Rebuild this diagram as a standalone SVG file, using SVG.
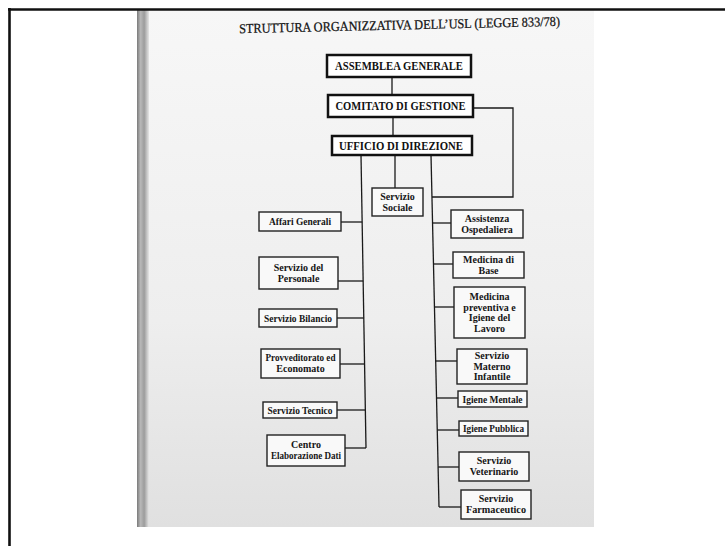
<svg xmlns="http://www.w3.org/2000/svg" width="725" height="546" viewBox="0 0 725 546">
  <style>
    .big { fill: #ffffff; stroke: #111111; stroke-width: 2.5; }
    .box { fill: #f9f9f9; stroke: #222222; stroke-width: 1.4; }
    .bt { font-family: "Liberation Serif", "DejaVu Serif", serif; font-weight: bold; font-size: 12px; fill: #111111; text-anchor: middle; }
    .st { font-family: "Liberation Serif", "DejaVu Serif", serif; font-weight: bold; font-size: 10px; fill: #151515; text-anchor: middle; }
    .title { font-family: "Liberation Serif", "DejaVu Serif", serif; font-size: 13.5px; fill: #111111; stroke: #111111; stroke-width: 0.25; text-anchor: middle; }
    .conn { fill: none; stroke: #1a1a1a; stroke-width: 1.3; }
  </style>
  <defs>
    <linearGradient id="page" x1="0" y1="0" x2="0" y2="1">
      <stop offset="0" stop-color="#f7f7f7"/>
      <stop offset="0.6" stop-color="#eeeeee"/>
      <stop offset="1" stop-color="#e0e0e0"/>
    </linearGradient>
    <linearGradient id="bind" x1="0" y1="0" x2="1" y2="0">
      <stop offset="0" stop-color="#7a7a7a"/>
      <stop offset="0.3" stop-color="#b8b8b8"/>
      <stop offset="0.6" stop-color="#9c9c9c"/>
      <stop offset="1" stop-color="#e6e6e6"/>
    </linearGradient>
  </defs>

  <!-- background and frame -->
  <rect x="0" y="0" width="725" height="546" fill="#ffffff"/>
  <rect x="137" y="10" width="457" height="517" fill="url(#page)"/>
  <rect x="137" y="10" width="12" height="517" fill="url(#bind)"/>
  <line x1="8" y1="9.5" x2="725" y2="9.5" stroke="#111" stroke-width="2.6"/>
  <line x1="9.5" y1="8" x2="9.5" y2="546" stroke="#111" stroke-width="2.6"/>

  <text class="title" x="399.5" y="29.5" textLength="321" lengthAdjust="spacingAndGlyphs" transform="rotate(-1.3 399.5 25)">STRUTTURA ORGANIZZATIVA DELL’USL (LEGGE 833/78)</text>

  <!-- connectors -->
  <g id="connectors" class="conn">
    <line x1="392" y1="77" x2="392" y2="95"/>
    <line x1="393" y1="117" x2="393" y2="136"/>
    <polyline points="473,108 513,108 513,197 432,197"/>
    <line x1="395" y1="155" x2="395" y2="188"/>
    <!-- left trunk -->
    <line x1="361" y1="155" x2="366" y2="448"/>
    <line x1="341" y1="222" x2="362.1" y2="222"/>
    <line x1="338" y1="281" x2="363.1" y2="281"/>
    <line x1="337" y1="318" x2="363.8" y2="318"/>
    <line x1="340" y1="364" x2="364.6" y2="364"/>
    <line x1="337" y1="410" x2="365.4" y2="410"/>
    <line x1="345" y1="448" x2="366" y2="448"/>
    <!-- right trunk -->
    <line x1="431" y1="155" x2="439" y2="507"/>
    <line x1="432.5" y1="223" x2="451" y2="223"/>
    <line x1="433.5" y1="264" x2="453" y2="264"/>
    <line x1="434.5" y1="307" x2="454" y2="307"/>
    <line x1="435.7" y1="361" x2="457" y2="361"/>
    <line x1="436.5" y1="398" x2="458" y2="398"/>
    <line x1="437.2" y1="430" x2="459" y2="430"/>
    <line x1="438.1" y1="467" x2="459" y2="467"/>
    <line x1="439" y1="507" x2="461" y2="507"/>
  </g>

  <!-- top nodes -->
  <g id="assemblea">
    <rect class="big" x="327" y="55" width="144" height="22"/>
    <text class="bt" x="399" y="70.2" textLength="128" lengthAdjust="spacingAndGlyphs">ASSEMBLEA GENERALE</text>
  </g>
  <g id="comitato">
    <rect class="big" x="328" y="95" width="145" height="22"/>
    <text class="bt" x="400.5" y="110.2" textLength="130" lengthAdjust="spacingAndGlyphs">COMITATO DI GESTIONE</text>
  </g>
  <g id="ufficio">
    <rect class="big" x="332" y="136" width="140" height="19"/>
    <text class="bt" x="401" y="149.7" textLength="124" lengthAdjust="spacingAndGlyphs">UFFICIO DI DIREZIONE</text>
  </g>

  <!-- center -->
  <g id="servizio-sociale">
    <rect class="box" x="372" y="188" width="51" height="28"/>
    <text class="st" x="397.5" y="199.8">Servizio</text>
    <text class="st" x="397.5" y="210.8">Sociale</text>
  </g>

  <!-- left column -->
  <g id="affari-generali">
    <rect class="box" x="259" y="212" width="82" height="19"/>
    <text class="st" x="300" y="225" textLength="62" lengthAdjust="spacingAndGlyphs">Affari Generali</text>
  </g>
  <g id="servizio-personale">
    <rect class="box" x="259" y="257" width="79" height="32"/>
    <text class="st" x="298.5" y="270.8">Servizio del</text>
    <text class="st" x="298.5" y="281.8">Personale</text>
  </g>
  <g id="servizio-bilancio">
    <rect class="box" x="259" y="309" width="78" height="18"/>
    <text class="st" x="298" y="321.5" textLength="68" lengthAdjust="spacingAndGlyphs">Servizio Bilancio</text>
  </g>
  <g id="provveditorato">
    <rect class="box" x="261" y="349" width="79" height="29"/>
    <text class="st" x="300.5" y="361.3" textLength="70" lengthAdjust="spacingAndGlyphs">Provveditorato ed</text>
    <text class="st" x="300.5" y="372.3">Economato</text>
  </g>
  <g id="servizio-tecnico">
    <rect class="box" x="263" y="402" width="74" height="16"/>
    <text class="st" x="300" y="413.5" textLength="65" lengthAdjust="spacingAndGlyphs">Servizio Tecnico</text>
  </g>
  <g id="centro-elaborazione">
    <rect class="box" x="267" y="435" width="78" height="31"/>
    <text class="st" x="306" y="448.3">Centro</text>
    <text class="st" x="306" y="459.3" textLength="70" lengthAdjust="spacingAndGlyphs">Elaborazione Dati</text>
  </g>

  <!-- right column -->
  <g id="assistenza-ospedaliera">
    <rect class="box" x="451" y="210" width="72" height="28"/>
    <text class="st" x="487" y="221.8">Assistenza</text>
    <text class="st" x="487" y="232.8">Ospedaliera</text>
  </g>
  <g id="medicina-base">
    <rect class="box" x="453" y="252" width="71" height="26"/>
    <text class="st" x="488.5" y="262.8">Medicina di</text>
    <text class="st" x="488.5" y="273.8">Base</text>
  </g>
  <g id="medicina-preventiva">
    <rect class="box" x="454" y="287" width="71" height="51"/>
    <text class="st" x="489.5" y="300">Medicina</text>
    <text class="st" x="489.5" y="310.5">preventiva e</text>
    <text class="st" x="489.5" y="321">Igiene del</text>
    <text class="st" x="489.5" y="331.5">Lavoro</text>
  </g>
  <g id="materno-infantile">
    <rect class="box" x="457" y="349" width="70" height="35"/>
    <text class="st" x="492" y="359.3">Servizio</text>
    <text class="st" x="492" y="369.8">Materno</text>
    <text class="st" x="492" y="380.3">Infantile</text>
  </g>
  <g id="igiene-mentale">
    <rect class="box" x="458" y="391" width="69" height="16"/>
    <text class="st" x="492.5" y="402.5" textLength="60" lengthAdjust="spacingAndGlyphs">Igiene Mentale</text>
  </g>
  <g id="igiene-pubblica">
    <rect class="box" x="459" y="421" width="69" height="15"/>
    <text class="st" x="493.5" y="432" textLength="61" lengthAdjust="spacingAndGlyphs">Igiene Pubblica</text>
  </g>
  <g id="servizio-veterinario">
    <rect class="box" x="459" y="452" width="70" height="29"/>
    <text class="st" x="494" y="464.3">Servizio</text>
    <text class="st" x="494" y="475.3">Veterinario</text>
  </g>
  <g id="servizio-farmaceutico">
    <rect class="box" x="461" y="490" width="70" height="29"/>
    <text class="st" x="496" y="502.3">Servizio</text>
    <text class="st" x="496" y="513.3" textLength="60" lengthAdjust="spacingAndGlyphs">Farmaceutico</text>
  </g>
</svg>
